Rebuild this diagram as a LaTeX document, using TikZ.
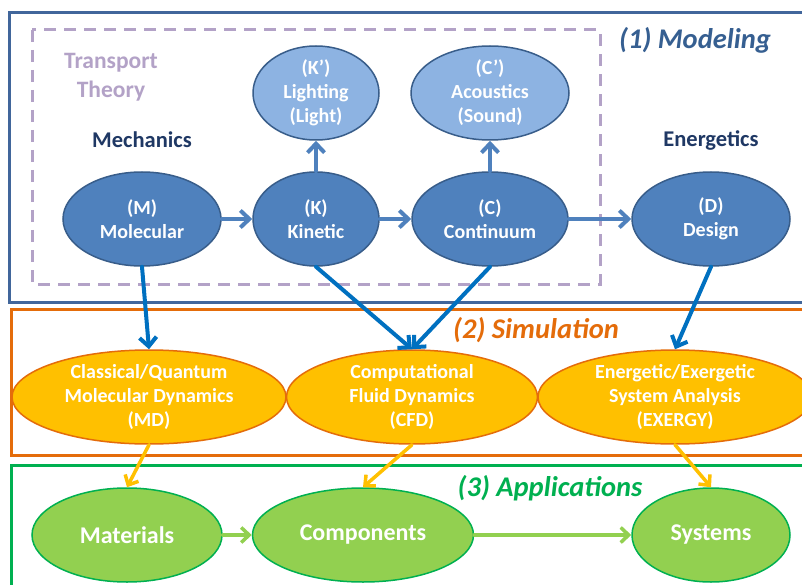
\documentclass[tikz,border=0pt]{standalone}
\usepackage{fontspec}
\setmainfont{Carlito}
\usetikzlibrary{shapes.geometric,arrows.meta}
\definecolor{mblue}{HTML}{4F81BD}
\definecolor{mblueb}{HTML}{385D8A}
\definecolor{lblue}{HTML}{8DB3E2}
\definecolor{frblue}{HTML}{41669B}
\definecolor{arblue}{HTML}{0070C0}
\definecolor{yel}{HTML}{FFC000}
\definecolor{org}{HTML}{E46C0A}
\definecolor{lgreen}{HTML}{92D050}
\definecolor{dgreen}{HTML}{00B050}
\definecolor{purp}{HTML}{B3A2C7}
\definecolor{navy}{HTML}{1F3864}
\definecolor{headblue}{HTML}{365F91}
\tikzset{
  ell/.style={ellipse, inner sep=0pt, line width=1.5pt},
  blueell/.style={ell, fill=mblue, draw=mblueb},
  lblueell/.style={ell, fill=lblue, draw=mblueb},
  yelell/.style={ell, fill=yel, draw=org},
  grnell/.style={ell, fill=lgreen, draw=dgreen},
  txt/.style={text=white, font=\bfseries\fontsize{20}{24}\selectfont, align=center, inner sep=0pt},
  bigtxt/.style={text=white, font=\bfseries\fontsize{24}{28}\selectfont, align=center, inner sep=0pt},
  hdr/.style={font=\bfseries\fontsize{22.5}{26}\selectfont, text=navy, inner sep=0pt},
  ttl/.style={font=\bfseries\itshape\fontsize{28.5}{32}\selectfont, inner sep=0pt},
  frame/.style={line width=3pt},
  marr/.style={-{Straight Barb[length=9pt,width=17pt]}, line width=4pt, mblue, line cap=round},
  barr/.style={-{Straight Barb[length=9pt,width=17pt]}, line width=4pt, arblue, line cap=round},
  yarr/.style={-{Straight Barb[length=8pt,width=15pt]}, line width=3.5pt, yel, line cap=round},
  garr/.style={-{Straight Barb[length=8pt,width=15pt]}, line width=3.5pt, lgreen, line cap=round},
}
\begin{document}
\begin{tikzpicture}[x=1pt,y=-1pt]
\useasboundingbox (0,0) rectangle (802,585);
\fill[white] (0,0) rectangle (802,585);
\clip (0,0) rectangle (802,585);
% frames
\draw[frame, frblue] (820,13) -| (9,302) -- (820,302);
\draw[frame, org] (820,309) -| (11,455) -- (820,455);
\draw[frame, dgreen] (820,465) -| (11,600);
\draw[purp, line width=3pt, dash pattern=on 12pt off 8pt] (32,30) rectangle (600,284);
% titles
\node[ttl, text=headblue] (t1) at (695,40) {(1) Modeling};
\node[ttl, text=org] (t2) at (536,330) {(2) Simulation};
\node[ttl, text=dgreen] (t3) at (550,488) {(3) Applications};
\node[font=\bfseries\fontsize{23.5}{29}\selectfont, text=purp, align=center, inner sep=0pt] (tt) at (111,77) {Transport\\Theory};
\node[hdr] (mech) at (142,140) {Mechanics};
\node[hdr] (ener) at (711,140) {Energetics};
% modeling nodes
\node[blueell, minimum width=158, minimum height=94, label={[txt]center:{(M)\\Molecular}}] (M) at (142,219) {};
\node[blueell, minimum width=126, minimum height=94, label={[txt]center:{(K)\\Kinetic}}] (K) at (316,219) {};
\node[blueell, minimum width=156, minimum height=94, label={[txt]center:{(C)\\Continuum}}] (C) at (490,219) {};
\node[blueell, minimum width=158, minimum height=94, label={[txt]center:{(D)\\Design}}] (D) at (711,219) {};
\node[lblueell, minimum width=126, minimum height=94, label={[txt]center:{(K’)\\Lighting\\(Light)}}] (Kp) at (316,93) {};
\node[lblueell, minimum width=158, minimum height=94, label={[txt]center:{(C’)\\Acoustics\\(Sound)}}] (Cp) at (490,93) {};
% simulation nodes
\node[yelell, minimum width=274, minimum height=94, label={[txt]center:{Classical/Quantum\\Molecular Dynamics\\(MD)}}] (MD) at (149,397) {};
\node[yelell, minimum width=251, minimum height=94, label={[txt]center:{Computational\\Fluid Dynamics\\(CFD)}}] (CFD) at (412,397) {};
\node[yelell, minimum width=274, minimum height=94, label={[txt]center:{Energetic/Exergetic\\System Analysis\\(EXERGY)}}] (EX) at (675,397) {};
% application nodes
\node[grnell, minimum width=190, minimum height=94, label={[bigtxt]center:{Materials}}] (Mat) at (127,535) {};
\node[grnell, minimum width=221, minimum height=94, label={[bigtxt]center:{Components}}] (Comp) at (363,535) {};
\node[grnell, minimum width=158, minimum height=94, label={[bigtxt]center:{Systems}}] (Sys) at (711,535) {};
% arrows
\draw[marr] (M) -- (K);
\draw[marr] (K) -- (C);
\draw[marr] (C) -- (D);
\draw[marr] (K) -- (Kp);
\draw[marr] (C) -- (Cp);
\draw[barr] (M.south) -- (MD.north);
\draw[barr] (K.south) -- (CFD.north);
\draw[barr] (C.south) -- (CFD.north);
\draw[barr] (D.south) -- (EX.north);
\draw[yarr] (MD.south) -- (Mat.north);
\draw[yarr] (CFD.south) -- (Comp.north);
\draw[yarr] (EX.south) -- (Sys.north);
\draw[garr] (Mat) -- (Comp);
\draw[garr] (Comp) -- (Sys);
\end{tikzpicture}
\end{document}
